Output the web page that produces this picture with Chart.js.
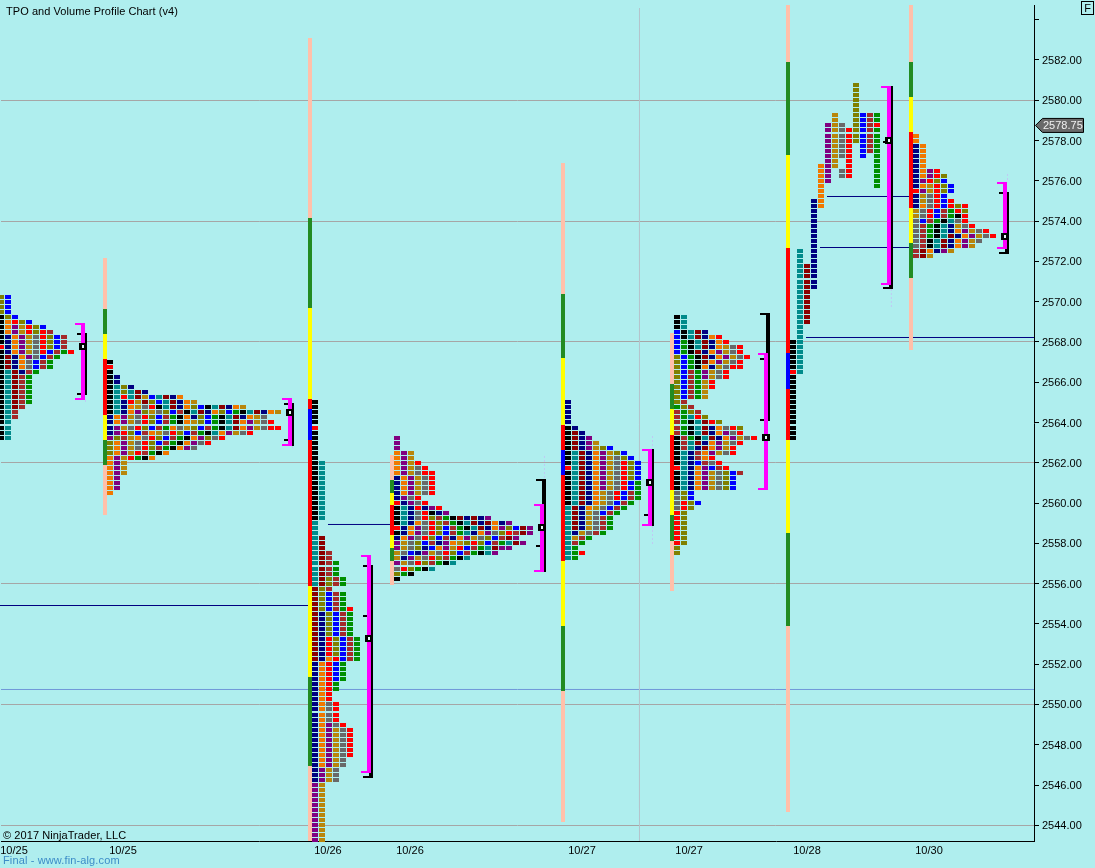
<!DOCTYPE html>
<html><head><meta charset="utf-8">
<style>html,body{margin:0;padding:0;background:#AFEEEE;overflow:hidden}canvas{display:block}</style>
<script src="https://cdn.jsdelivr.net/npm/chart.js@4"></script>
</head><body><div style="width:1095px;height:868px"><canvas id="c" width="1095" height="868"></canvas></div>
<script>
// ---------- data ----------
const chartTitle = 'TPO and Volume Profile Chart (v4)';
const copyrightText = '\u00A9 2017 NinjaTrader, LLC';
const footerText = 'Final - www.fin-alg.com';
const lastPrice = 2578.75;
const dateLabels = ['10/25','10/25','10/26','10/26','10/27','10/27','10/28','10/30'];
const dateSlots = [1.857,17.43,46.71,58.43,83,98.29,115.14,132.57];
const gridEvery = 6;

// TPO rows, top price downward; one letter per period. "*n" repeats a row.
const profile1 = ['OL*4','KOL','KorOL','KoPDrOL','KoPDrOrB','KNoPDArOLB','KNoPDArOLB','rNoPDArOLB','KNoPDArLBGr','KRNoPALBG','KRNoALBG*2','KTRNBG','KTRBG*6','KTRB','KTB*2','KT*4'];
const profile2 = ['K','r','K','KN*2','KTON','KTOTRN','KTrTRDLTRNo','KTNrDROLTRNoD','KTNoDArKTRNoOLKTRNoD','KTNoPODAOLBKTRNoOLGKTRNoD','NoPDArOLBGKoNOLGKTRNoDA','NoPDArOLBGKoDOLGKTRoPDAr','NPDArOLBGoADOLBGKTRoPDArr','NPrOLBoDArOLBGKToPDAr','POBDoArOLBGKoPOAr','OoPDArOLBGKoPAr','OoPDArOBGKoPA','OoPDrBGKo','oPDrGKo','oPD*3','oP*3','o'];
const profile3 = ['K*5','r','K*6','KT*12','T*3','TR*3','TRB*2','TRBG*3','TROBG*2','ROB','ROLBG*3','ROLBGr','RNOLBG*5','RNrOLBG*4','RNorLBG','NorLG*4','NorG*2','Nor*2','NoAr*4','NoPAr','NoPDAr*6','NoPDA*2','NPDA*3','PD*12'];
const profile4 = ['P*3','oPD*2','oPDr','oPDAr','oPDArr','NoPDAr*4','NPAr','rNPAr','KTNrNPr','KTNArKNP','KTNArOBGKRNRNP','KTNoArOBGKTRNRoNP','rNoPArOLBGKTRNoPOLRP','KNoPArOLBGTNoPAOrBRP','NoPArOLBNoPDAOLBRP','PDAOLBNPoDOrOLBGTRP','PDAONLoPDrLBGTRPP','DALNPDArOLBGKTP','DNPDArOBGKT','PDArOBGKT','ArOGKT','OGK','K'];
const profile5 = ['N*5','KN','KRN','KRNP','KRNPD','KRNPDOL','KTRNoPDOL','KTRNoPDAOL','KTRNoPDArOL','rTRNoPDArOL','KTRNoPDArOL*2','KTRNoPDArLG*2','KTRNoDArLBG*2','KTRNoDALBG','TRNoDALBG','TRNDALBG','TRNDABG*3','TNDABG','TDBG','TBG','TG','TGr','TG'];
const profile6 = ['KT*3','LKTRN','LKTRNor','LGKTRNor','LGKTRNoDAr','LGKRNoPDAr','OLGKRNoPDAr','OLGKRoPDAr','OLGKoNDArr','OLBGPDAr*2','OLBGDr*2','OLBGD*2','OB','GOB','BGOB','BGTrO','BGKTRrO','BGKTRNoArO','BGKTRNoPAr','KBGKTRNoPDAr','KBTRNoPDAr','KBTNRoPDr','KTNBoPDAr','KTNBor','KTNLBAr','rTNoPLBr','KTNoPDAOLB','KTNoPDAOL*3','AOL*2','ArOL','ArO','rO*7','O*2'];
const profile7 = ['.........O*6','......D..OLBG*2','.....PDA.OLBr','.....PDArOLBG*3','.....PDAr.LBG*2','.....PDAr.L.G','.....PD.r...G','....oPD.r...G','....oP.Ar...G*2','....oP......G','....o.......G','....o*2','...No*2','...N*8','.T.N*3','.TRN*5','.TR*7','.T*3','KT*6','rT','K*13'];
const profile8 = ['o*2','No*5','NoPr','NoPrO','NPrOL','NoDrOL','rPDrOL','NDArL','NDArLr','NoArLrOr','DArLBGrO','DArLBGKr','ALBGKTAr','ABGKTNDAr','ABGKTNoPDAr','ABGKTRNoPDAr','ABKTRNoPDA','ABKTRNoPD','BRoNPD','BRD'];
const profileRows = [profile1,profile2,profile3,profile4,profile5,profile6,profile7,profile8];
const profileTopPrices = [2570.25,2567,2565,2563.25,2565,2569.25,2580.75,2578.25];
const profileSlots = [0,15.571,44.857,56.571,81,96.571,113.143,130.714];

// Range bars: price levels from top to bottom, letter per span between levels.
const rangeSlots = [14.857,44.143,55.857,80.286,95.857,112.429,130];
const rangeLevels = [
 [2572.17,2569.64,2568.40,2567.16,2564.38,2563.14,2561.90,2559.42],
 [2583.09,2574.15,2569.69,2565.17,2564.68,2563.14,2555.90,2551.38,2546.92,2543.22],
 [2562.40,2561.16,2560.51,2559.92,2558.43,2557.78,2557.14,2555.95],
 [2576.88,2570.38,2567.21,2563.88,2562.64,2561.40,2557.14,2553.91,2550.69,2544.14],
 [2568.45,2565.92,2564.68,2563.39,2560.66,2559.42,2558.13,2555.65],
 [2584.73,2581.89,2577.28,2572.66,2567.45,2565.67,2563.14,2558.53,2553.91,2544.64],
 [2584.73,2581.89,2580.15,2578.42,2574.65,2572.91,2571.17,2567.60]
];
const rangeColours = ['pgyrygp','pgyrLrygp','pgyrygp','pgyrLrygp','pgyrygp','pgyrLrygp','pgyrygp'];

// Value-area brackets
const bracketSlots = [11.714,41.286,52.571,77.286,92.714,109.286,126.857,143.429];
const magentaTop = [2568.94,2565.22,2557.44,2559.96,2562.69,2567.45,2580.70,2575.94];
const magentaBottom = [2565.12,2562.84,2546.62,2556.59,2558.87,2560.66,2570.83,2572.61];
const blackTop = [2568.45,2564.97,2556.94,2561.20,2562.69,2569.44,2580.70,2575.44];
const blackBottom = [2565.37,2562.84,2546.37,2556.59,2558.87,2564.13,2570.63,2572.36];
const blackTicks = [[2568.40,2565.42],[2564.92,2563.14],[2556.89,2554.41,2546.42],[2561.16,2557.88],[2559.42],[2569.39,2567.16,2564.13],[2570.68,2577.92],[2575.39,2572.41]];
const pocPrices = [2567.78,2564.53,2553.29,2558.80,2561.03,2563.26,2578.04,2573.28];

// Faint overnight ticks
const faintSlots = [12.07,41.64,77.64,93.07,93.07,127.2,143.79];
const faintTop = [2565.12,2562.83,2562.34,2563.33,2558.86,2570.63,2576.34];
const faintBottom = [2564.92,2562.63,2561.19,2562.68,2557.87,2569.64,2575.94];

// Naked levels: price, first slot, last slot
const levelPrices = [2554.913,2558.936,2575.222,2572.689,2568.221];
const levelFrom = [-0.143,46.714,118,117,115];
const levelTo = [44.143,56.143,129.857,130.143,147.571];
const blueLinePrice = 2550.743;
const sessionBreakSlot = 91.214;
const sessionBreakTop = 2584.58;

// ---------- styles ----------
const cellColours = {K:'#000000',T:'#008B8B',N:'#000080',R:'#8B0000',B:'#A52A2A',G:'#008F00',L:'#0000FF',O:'#808000',D:'#B8860B',A:'#696969',r:'#FF0000',P:'#800080',o:'#F07800'};
const spanColours = {p:'#FFC0AA',g:'#228B22',y:'#FFFF00',r:'#FF0000',L:'#0000FF'};
const yMax = 2584.73, yMin = 2543.22, areaHeight = 836;
const pxPerPoint = areaHeight/(yMax-yMin);
const slotPx = 7, xMax = 1033/7;
const snapY = p => yMax - Math.round((yMax-p)*pxPerPoint)/pxPerPoint;
const snapX = s => Math.round(s*slotPx)/slotPx;
const px = n => n/slotPx;
const dy = n => n/pxPerPoint;
function cellImage(w,h,col,inner){
  const c=document.createElement('canvas');c.width=w;c.height=h;
  const g=c.getContext('2d');g.fillStyle=col;g.fillRect(0,0,w,h);
  if(inner){g.fillStyle=inner;g.fillRect(3,2,2,3);}
  return c;
}
const datasets=[];
function seg(x1,y1,x2,y2,colour,width,dash){
  datasets.push({data:[{x:x1,y:y1},{x:x2,y:y2}],showLine:true,pointRadius:0,borderColor:colour,borderWidth:width,borderCapStyle:'butt',borderDash:dash||[],tension:0,clip:false});
}
// reference lines
seg(0,blueLinePrice,xMax,blueLinePrice,'#7098D8',1);
seg(sessionBreakSlot,sessionBreakTop,sessionBreakSlot,yMin,'#B4C4CC',1);
levelPrices.forEach((p,i)=>seg(levelFrom[i],p,levelTo[i],p,'#000080',1));
faintSlots.forEach((s,i)=>seg(s,faintTop[i],s,faintBottom[i],'#C0C8F4',1,[2,2]));
// TPO cells, one dataset per colour
const byColour={};
profileRows.forEach((rows,pi)=>{
  let r=0;
  rows.forEach(entry=>{
    const [txt,rep]=entry.split('*');
    for(let n=0;n<(+rep||1);n++,r++){
      [...txt].forEach((ch,col)=>{
        if(ch==='.')return;
        (byColour[ch]=byColour[ch]||[]).push({x:snapX(profileSlots[pi]+col),y:snapY(profileTopPrices[pi]-r*0.25)});
      });
    }
  });
});
Object.keys(byColour).forEach(ch=>{
  datasets.push({data:byColour[ch],showLine:false,pointStyle:cellImage(6,4,cellColours[ch]),pointRadius:3,pointHoverRadius:3,clip:false});
});
// range bars
rangeSlots.forEach((s,i)=>{
  const lv=rangeLevels[i];
  [...rangeColours[i]].forEach((ch,j)=>seg(snapX(s),snapY(lv[j]),snapX(s),snapY(lv[j+1]),spanColours[ch],4));
});
// brackets
bracketSlots.forEach((s0,i)=>{
  const s=snapX(s0), bx=s+px(2);
  seg(bx,snapY(blackTop[i]),bx,snapY(blackBottom[i]),'#000',4);
  blackTicks[i].forEach(t=>seg(s-px(6),snapY(t),s+px(4),snapY(t),'#000',2));
  seg(s,snapY(magentaTop[i]),s,snapY(magentaBottom[i]),'#FF00FF',4);
  seg(s-px(8),snapY(magentaTop[i])-dy(1),s+px(2),snapY(magentaTop[i])-dy(1),'#FF00FF',2);
  seg(s-px(8),snapY(magentaBottom[i])+dy(1),s+px(2),snapY(magentaBottom[i])+dy(1),'#FF00FF',2);
});
datasets.push({data:pocPrices.map((p,i)=>({x:snapX(bracketSlots[i]),y:snapY(p)-dy(0.5)})),showLine:false,pointStyle:cellImage(8,7,'#000','#E4F8F8'),pointRadius:4,pointHoverRadius:4,clip:false});
datasets.forEach((d,i)=>{d.order=-i;});

const overlay={id:'overlay',
 afterLayout(chart){
  // pin the plot's left edge
  const a=chart.chartArea,x=chart.scales.x;
  a.left=1;a.width=a.right-a.left;
  x.left=1;x.width=x.right-x.left;x.configure();
 },
 afterDraw(chart){
  const g=chart.ctx,y=chart.scales.y.getPixelForValue(lastPrice);
  g.save();
  g.font='11px "Liberation Sans"';g.textBaseline='middle';g.textAlign='left';
  g.fillStyle='#000';
  g.letterSpacing='0.06px';
  g.fillText(chartTitle,6,12);
  g.letterSpacing='0.08px';
  g.fillText(copyrightText,3,835.5);
  g.fillStyle='#3C8CC8';
  g.letterSpacing='0.13px';
  g.fillText(footerText,3,861);
  g.letterSpacing='0px';
  // last price marker
  g.beginPath();g.moveTo(1035.5,y);g.lineTo(1042.5,y-7);g.lineTo(1083.5,y-7);g.lineTo(1083.5,y+7);g.lineTo(1042.5,y+7);g.closePath();
  g.fillStyle='#696969';g.fill();g.strokeStyle='#000';g.lineWidth=1;g.stroke();
  g.fillStyle='#F0F0F0';g.fillText(lastPrice.toFixed(2),1043,y+0.5);
  // F box
  g.strokeStyle='#000';g.strokeRect(1081.5,1.5,12,13);
  g.fillStyle='#000';g.textAlign='center';g.fillText('F',1087.5,8.5);
  g.restore();
 }};

new Chart(document.getElementById('c'),{
  type:'scatter',
  data:{datasets},
  plugins:[overlay],
  options:{
    responsive:false,animation:false,events:[],
    layout:{padding:{left:1,top:5,right:0,bottom:0}},
    plugins:{legend:{display:false},title:{display:false},tooltip:{enabled:false}},
    scales:{
      x:{type:'linear',min:0,max:xMax,
        grid:{display:false,drawTicks:false},
        border:{display:true,color:'#000',width:1},
        afterBuildTicks(a){a.ticks=dateSlots.map(v=>({value:v}));},
        afterFit(a){a.height=27;a.paddingLeft=0;a.paddingRight=0;},
        ticks:{autoSkip:false,maxRotation:0,padding:3,color:'#000',font:{family:'"Liberation Sans"',size:11},
          callback(v,i){return dateLabels[i];}}
      },
      y:{type:'linear',position:'right',min:yMin,max:yMax,
        grid:{color(c){return c.tick&&c.tick.value%gridEvery===0?'#A6A6A6':'rgba(0,0,0,0)';},tickColor:'#000',tickLength:5,lineWidth:1},
        border:{display:true,color:'#000',width:1},
        afterFit(a){a.width=61;a.paddingTop=0;a.paddingBottom=0;},
        ticks:{stepSize:2,includeBounds:false,autoSkip:false,padding:3,labelOffset:1,color:'#000',font:{family:'"Liberation Sans"',size:11},
          callback(v){return v>=2584?'':v.toFixed(2);}}
      }
    }
  }
});
</script></body></html>
